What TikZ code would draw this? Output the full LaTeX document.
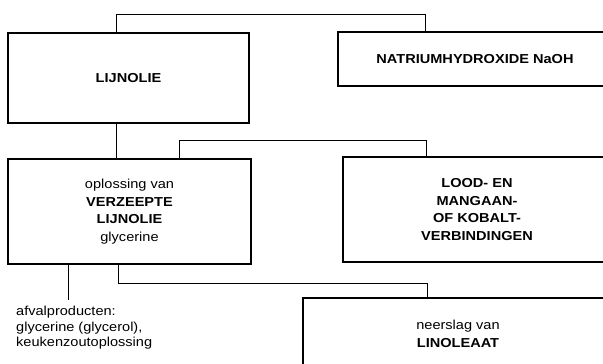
\documentclass[tikz,border=0pt]{standalone}
\usepackage{fontspec}
\setmainfont{Liberation Sans}[FakeStretch=1.12]
\begin{document}
\begin{tikzpicture}[x=1pt,y=-1pt,
  box/.style={draw, line width=1.5pt, inner sep=0pt, align=center,
    font=\fontsize{13}{17.5}\selectfont},
  conn/.style={line width=0.9pt}]
\useasboundingbox (0,0) rectangle (603,364);
\clip (0,0) rectangle (603,364);
\node[box, minimum width=241pt, minimum height=90pt] (lij) at (128.5,78) {\textbf{LIJNOLIE}};
\node[box, minimum width=274pt, minimum height=54pt] (naoh) at (475,59) {\textbf{NATRIUMHYDROXIDE NaOH}};
\node[box, minimum width=243pt, minimum height=105pt] (opl) at (129.5,211.5)
  {oplossing van\\ \textbf{VERZEEPTE}\\ \textbf{LIJNOLIE}\\ glycerine};
\node[box, minimum width=268pt, minimum height=105pt] (lood) at (477,209.5)
  {\textbf{LOOD- EN}\\ \textbf{MANGAAN-}\\ \textbf{OF KOBALT-}\\ \textbf{VERBINDINGEN}};
\node[box, minimum width=310pt, minimum height=72pt] (lin) at (458,334)
  {neerslag van\\ \textbf{LINOLEAAT}};
\node[anchor=north west, inner sep=0pt, align=left,
  font=\fontsize{13}{15.5}\selectfont] (afval) at (16,306)
  {afvalproducten:\\ glycerine (glycerol),\\ keukenzoutoplossing};
\coordinate (afend) at (68,300);
\draw[conn] ([xshift=-12.5pt]lij.north) -- ++(0,-18) -| ([xshift=-50pt]naoh.north);
\draw[conn] ([xshift=-12.5pt]lij.south) -- ([xshift=-12.5pt]lij.south |- opl.north);
\draw[conn] ([xshift=49.5pt]opl.north) -- ++(0,-18) -| ([xshift=-51pt]lood.north);
\draw[conn] ([xshift=-11.5pt]opl.south) -- ++(0,19) -| ([xshift=-31pt]lin.north);
\draw[conn] (afend |- opl.south) -- (afend);
\end{tikzpicture}
\end{document}
